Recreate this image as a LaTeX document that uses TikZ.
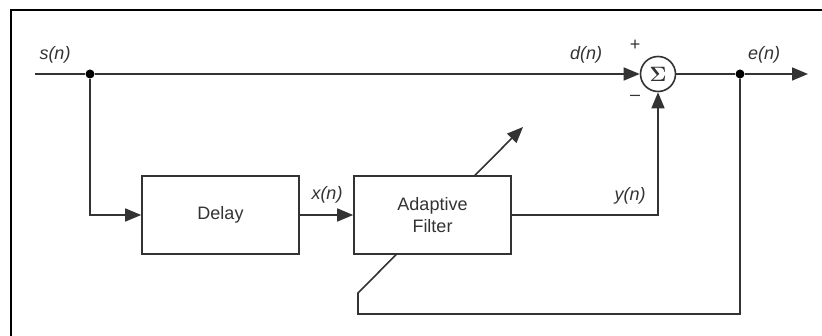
\documentclass[tikz,border=0pt]{standalone}
\usepackage{amsmath}
\usepackage{fontspec}
\setmainfont{Liberation Sans}
\usepackage{tikz}
\usetikzlibrary{arrows.meta, positioning, backgrounds}

\begin{document}
\begin{tikzpicture}[
    x=1pt, y=-1pt,
    font=\fontsize{18}{22}\selectfont\color{black!80},
    block/.style={rectangle, draw=black!80, line width=1.6pt, fill=white, minimum width=157pt, minimum height=78pt, align=center},
    sumnode/.style={circle, draw=black!80, line width=1.6pt, fill=white, minimum size=35pt, inner sep=0pt},
    dot/.style={circle, fill=black, inner sep=0pt, minimum size=9pt},
    sig/.style={font=\fontsize{18}{22}\selectfont\itshape\color{black!80}},
    wire/.style={draw=black!80, line width=1.6pt},
    arrow/.style={wire, -{Triangle[length=16pt, width=13pt]}}
]
\useasboundingbox (0,0) rectangle (822,336);

% Frame
\draw[line width=2.5pt] (11,336) -- (11,10) -- (822,10);

% Blocks
\node[block] (delay) at (220.5,215) {Delay};
\node[block] (filter) at (432.5,215) {Adaptive\\Filter};
\node[sumnode] (sum) at (658,74) {\fontsize{20}{22}\selectfont$\boldsymbol{\Sigma}$};

% Junctions and free ends
\node[dot] (split) at (90,74) {};
\node[dot] (tap) at (740,74) {};
\coordinate (in) at (35,74);
\coordinate (out) at (808,74);
\coordinate (fbA) at (740,314);
\coordinate (fbB) at (358,314);
\coordinate (fbC) at (358,293);
\coordinate (adapt) at (523,127);
\coordinate (yturn) at (658,215);

% Signal paths
\draw[wire] (in) -- (split);
\draw[arrow] (split) -- (sum);
\draw[arrow] (split) |- (delay);
\draw[arrow] (delay) -- (filter);
\draw[wire] (sum) -- (tap);
\draw[arrow] (tap) -- (out);
\draw[arrow] (filter.east) -- (yturn) -- (sum.south);

% Error feedback (runs behind the filter)
\begin{scope}[on background layer]
\draw[arrow] (tap) -- (fbA) -- (fbB) -- (fbC) -- (adapt);
\end{scope}

% Labels
\node[sig] (sLab) at (55,55) {s(n)};
\node[sig] (dLab) at (586,55) {d(n)};
\node[sig] (eLab) at (764,55) {e(n)};
\node[sig] (xLab) at (327,195) {x(n)};
\node[sig] (yLab) at (630,196) {y(n)};
\node (plus) at (635,45) {+};
\node (minus) at (635,98) {\textendash};

\end{tikzpicture}
\end{document}
